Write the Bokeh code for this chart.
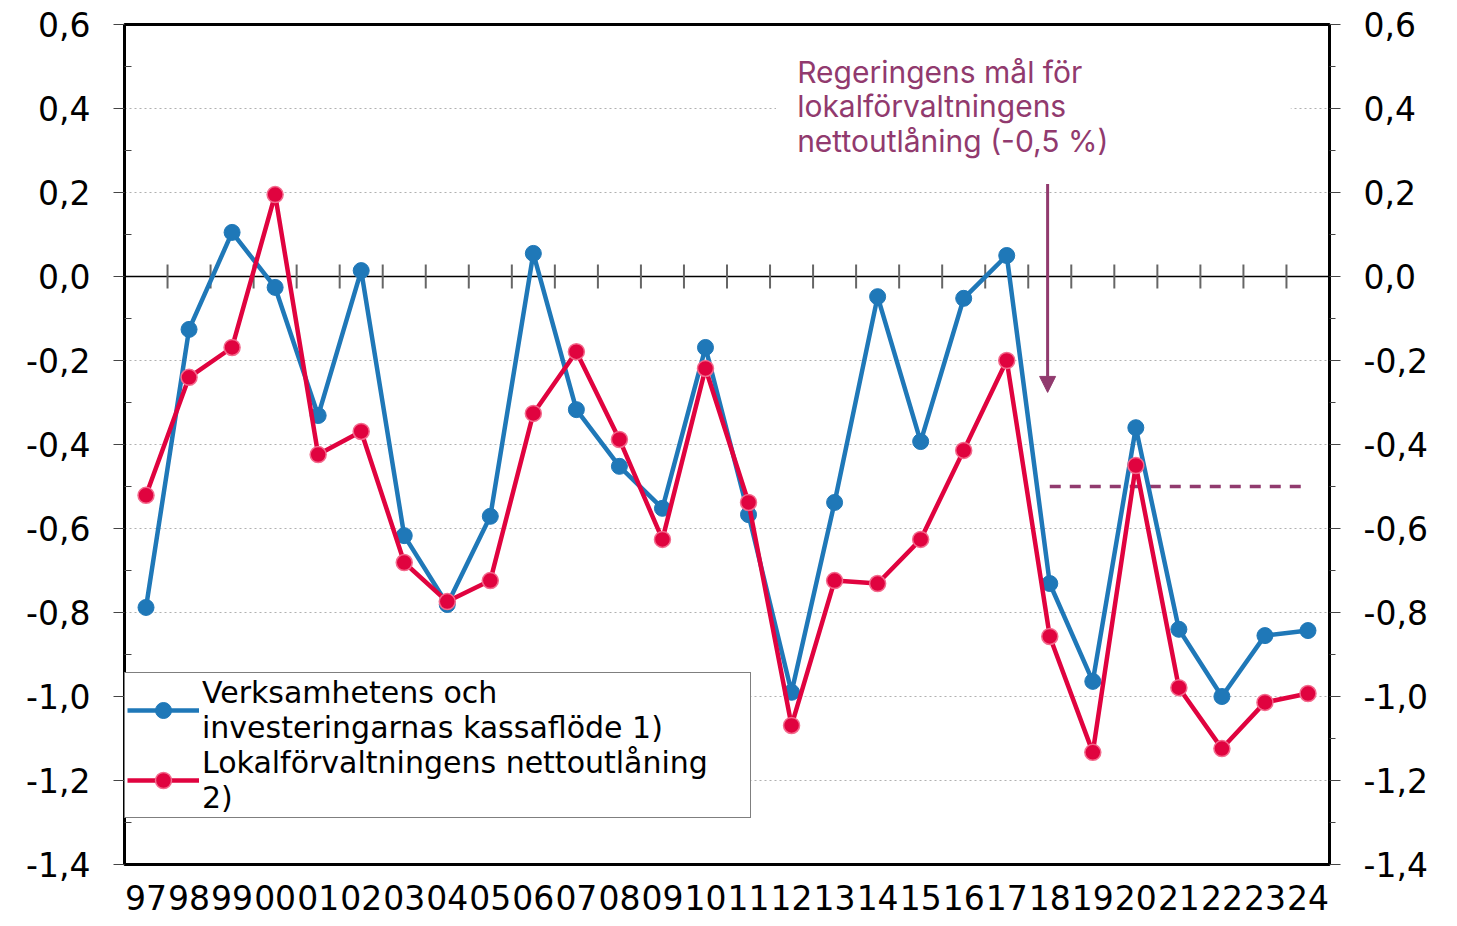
import math
from bokeh.plotting import figure
from bokeh.models import (Range1d, LinearAxis, FixedTicker, CustomJSTickFormatter, Span, Arrow,
                          NormalHead, Label, BoxAnnotation, Legend, LegendItem,
                          ColumnDataSource)
from bokeh.embed import file_html
from bokeh.resources import INLINE

# ---- data ----
years = ["97", "98", "99", "00", "01", "02", "03", "04", "05", "06", "07", "08", "09", "10",
         "11", "12", "13", "14", "15", "16", "17", "18", "19", "20", "21", "22", "23", "24"]
cash_flow = [-0.788, -0.126, 0.105, -0.026, -0.331, 0.014, -0.617, -0.781, -0.571, 0.055,
             -0.317, -0.452, -0.552, -0.169, -0.567, -0.990, -0.538, -0.048, -0.393, -0.052,
             0.050, -0.731, -0.964, -0.360, -0.840, -1.000, -0.855, -0.843]
net_lending = [-0.521, -0.240, -0.169, 0.195, -0.424, -0.369, -0.681, -0.774, -0.724, -0.326,
               -0.179, -0.388, -0.626, -0.219, -0.538, -1.069, -0.724, -0.731, -0.626, -0.414,
               -0.200, -0.857, -1.133, -0.450, -0.979, -1.124, -1.014, -0.993]
goal_value = -0.5
goal_years = ["18", "24"]
y_ticks = [-1.4, -1.2, -1.0, -0.8, -0.6, -0.4, -0.2, 0.0, 0.2, 0.4, 0.6]
series_names = ["Verksamhetens och\ninvesteringarnas kassaflöde 1)",
                "Lokalförvaltningens nettoutlåning\n2)"]
note_text = "Regeringens mål för\nlokalförvaltningens\nnettoutlåning (-0,5 %)"

# ---- styles ----
BLUE = "#1F78B8"
RED = "#E0033F"
PURPLE = "#913A6E"
TXT_FONT = "Inter"
LEG_FONT = "DejaVu Sans"
NUM_FONT = "DejaVu Sans"

xs = [i + 0.5 for i in range(len(years))]
boundaries = [float(i) for i in range(1, len(years))]

p = figure(width=1449, height=918, x_range=Range1d(0, len(years)),
           y_range=Range1d(y_ticks[0], y_ticks[-1]),
           output_backend="svg", toolbar_location=None,
           min_border_left=124, min_border_right=120, min_border_top=24, min_border_bottom=54)
p.outline_line_color = "black"
p.outline_line_width = 3
p.background_fill_color = "white"
p.border_fill_color = "white"

# bottom axis with year labels
xax = p.xaxis[0]
xax.ticker = FixedTicker(ticks=xs)
xax.formatter = CustomJSTickFormatter(args=dict(labels=years),
                                      code="return labels[Math.floor(tick)];")
xax.axis_line_color = None
xax.major_tick_line_color = None
xax.minor_tick_line_color = None
xax.major_label_text_font = NUM_FONT
xax.major_label_text_font_size = "33px"
xax.major_label_text_color = "black"
xax.major_label_standoff = 14
p.xgrid.visible = False

minor = [round((a + b) / 2, 2) for a, b in zip(y_ticks[:-1], y_ticks[1:])]
fmt_code = "var s = tick.toFixed(1).replace('.', ','); return s == '-0,0' ? '0,0' : s;"

yax = p.yaxis[0]
yax.ticker = FixedTicker(ticks=y_ticks, minor_ticks=minor)
yax.formatter = CustomJSTickFormatter(code=fmt_code)
yax.axis_line_width = 3
yax.axis_line_color = "black"
yax.major_tick_out = 11
yax.major_tick_in = 0
yax.minor_tick_in = 7
yax.minor_tick_out = 0
yax.major_tick_line_color = "#444"
yax.minor_tick_line_color = "#444"
yax.major_label_text_font = NUM_FONT
yax.major_label_text_font_size = "33px"
yax.major_label_text_color = "black"
yax.major_label_standoff = 23

rax = LinearAxis(ticker=FixedTicker(ticks=y_ticks, minor_ticks=minor),
                 formatter=CustomJSTickFormatter(code=fmt_code))
rax.axis_line_width = 3
rax.axis_line_color = "black"
rax.major_tick_out = 11
rax.major_tick_in = 0
rax.minor_tick_in = 0
rax.minor_tick_out = 6
rax.major_tick_line_color = "#444"
rax.minor_tick_line_color = "#444"
rax.major_label_text_font = NUM_FONT
rax.major_label_text_font_size = "33px"
rax.major_label_text_color = "black"
rax.major_label_standoff = 23
p.add_layout(rax, "right")

p.ygrid.ticker = FixedTicker(ticks=y_ticks)
p.ygrid.grid_line_color = "#b0b0b0"
p.ygrid.grid_line_dash = "2 3"
p.ygrid.grid_line_width = 1

# zero line with category ticks
zero = Span(location=0, dimension="width", line_color="black", line_width=1.5, level="underlay")
p.add_layout(zero)
p.scatter(x=boundaries, y=[0.0] * len(boundaries), marker="dash", angle=math.pi / 2,
          size=24, line_color="#666", line_width=2, fill_alpha=0)

# target line
gx = [years.index(goal_years[0]) + 0.5, years.index(goal_years[1]) + 0.5]
p.line(gx, [goal_value, goal_value], line_color=PURPLE, line_width=3.5, line_dash="11 9")

# series
src = ColumnDataSource(dict(x=xs, a=cash_flow, b=net_lending))
l1 = p.line("x", "a", source=src, line_color=BLUE, line_width=4.5)
s1 = p.scatter("x", "a", source=src, size=16, fill_color=BLUE, line_color=BLUE, line_width=1)
l2 = p.line("x", "b", source=src, line_color=RED, line_width=4.5)
s2 = p.scatter("x", "b", source=src, size=16, fill_color=RED, line_color="#F36A8D", line_width=1.5)

# annotation: white text box, text and arrow
p.add_layout(BoxAnnotation(left=15.14, right=27.1, top=0.56, bottom=0.27,
                           fill_color="white", fill_alpha=1, line_alpha=0))
p.add_layout(Label(x=15.63, y=0.53, text=note_text, text_font=TXT_FONT, text_font_size="30px",
                   text_color=PURPLE, text_baseline="top", text_line_height=0.96))
ax = years.index(goal_years[0]) + 0.45
p.add_layout(Arrow(end=NormalHead(size=16, fill_color=PURPLE, line_color=PURPLE),
                   x_start=ax, y_start=0.22, x_end=ax, y_end=-0.276,
                   line_color=PURPLE, line_width=3))

legend = Legend(items=[LegendItem(label=series_names[0], renderers=[l1, s1]),
                       LegendItem(label=series_names[1], renderers=[l2, s2])],
                location=(0, 46), orientation="vertical")
legend.border_line_color = "black"
legend.border_line_width = 1
legend.background_fill_color = "white"
legend.background_fill_alpha = 1
legend.label_text_font = LEG_FONT
legend.label_text_font_size = "30px"
legend.label_text_color = "black"
legend.label_text_line_height = 1.0
legend.label_width = 546
legend.glyph_width = 72
legend.glyph_height = 40
legend.label_standoff = 3
legend.padding = 2
legend.spacing = 0
legend.margin = 0
p.add_layout(legend)

open("out.html", "w").write(file_html(p, INLINE))
